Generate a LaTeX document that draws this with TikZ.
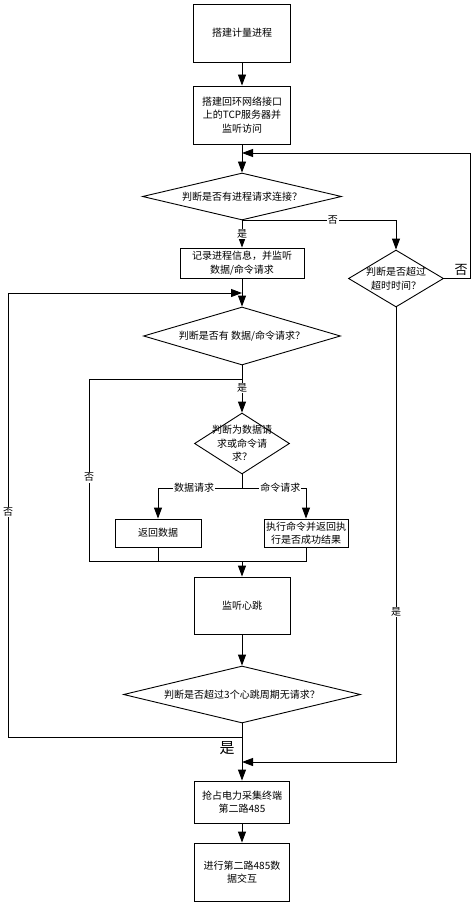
\documentclass[tikz,border=0pt]{standalone}
\usepackage{fontspec}
\setmainfont{Noto Sans CJK SC}
\usetikzlibrary{arrows.meta,shapes.geometric}
\begin{document}
\begin{tikzpicture}[x=1pt,y=-1pt,
  every node/.style={font=\fontsize{10}{13.5}\selectfont},
  box/.style={draw,line width=0.9pt,inner sep=0pt,align=center,fill=white},
  dia/.style={draw,diamond,line width=0.9pt,inner sep=0pt},
  arr/.style={line width=0.9pt,-{Triangle[length=11pt,width=8pt]}},
  ln/.style={line width=0.9pt},
  lbl/.style={fill=white,inner sep=1pt}]
\useasboundingbox (0,0) rectangle (474,904);
% boxes
\node[box,minimum width=97pt,minimum height=58pt] (b1) at (242,33) {搭建计量进程};
\node[box,minimum width=97pt,minimum height=58pt] (b2) at (242,115) {搭建回环网络接口\\上的TCP服务器并\\监听访问};
\node[dia,minimum width=199pt,minimum height=47pt,label={center:判断是否有进程请求连接？}] (d1) at (242,196.5) {};
\node[box,minimum width=124pt,minimum height=30pt] (b3) at (242,263) {记录进程信息，并监听\\数据/命令请求};
\node[dia,minimum width=95pt,minimum height=57pt,label={[align=center]center:判断是否超过\\超时时间？}] (d2) at (396,278.5) {};
\node[dia,minimum width=197pt,minimum height=58pt,label={center:判断是否有 数据/命令请求？}] (d3) at (242,336) {};
\node[dia,minimum width=95pt,minimum height=61pt,label={[align=center]center:判断为数据请\\求或命令请\\求？}] (d5) at (242,443.5) {};
\node[box,minimum width=86pt,minimum height=28pt] (b5) at (158,533) {返回数据};
\node[box,minimum width=84pt,minimum height=28pt] (b6) at (306,533) {执行命令并返回执\\行是否成功结果};
\node[box,minimum width=96pt,minimum height=57pt] (bh) at (242,605.5) {监听心跳};
\node[dia,minimum width=237pt,minimum height=57pt,label={center:判断是否超过3个心跳周期无请求？}] (d4) at (242,694.5) {};
\node[box,minimum width=95pt,minimum height=42pt] (b7) at (242,802) {抢占电力采集终端\\第二路485};
\node[box,minimum width=95pt,minimum height=58pt] (b8) at (242,872) {进行第二路485数\\据交互};
% junction coordinates
\coordinate (j1) at (242,153);
\coordinate (j2) at (242,293);
\coordinate (j3) at (242,737);
\coordinate (j4) at (242,762);
\coordinate (k1) at (242,379);
\coordinate (m) at (242,561);
\coordinate (f) at (242,488);
% connectors
\draw[arr] (b1.south) -- (b2.north);
\draw[arr] (b2.south) -- (d1.north);
\draw[arr] (d1.south) -- node[lbl]{是} (b3.north);
\draw[arr] (d1.south) -- node[lbl,pos=0.59]{否} (d1.south -| d2.north) -- (d2.north);
\draw[arr] (d2.east) -- (470,278.5) -- (470,153) -- (j1);
\node[font=\fontsize{13}{13}\selectfont] (no2) at (461,270) {否};
\draw[arr] (b3.south) -- (d3.north);
\draw[arr] (j3) -- (8,737) -- node[lbl,pos=0.507]{否} (8,293) -- (j2);
\draw[arr] (d3.south) -- node[lbl,pos=0.48]{是} (d5.north);
\draw[ln] (k1) -- (89,379) -- node[lbl,pos=0.54]{否} (89,561) -- (m);
\draw[ln] (d5.south) -- (f);
\draw[arr] (f) -- node[lbl,pos=0.57]{数据请求} (f -| b5.north) -- (b5.north);
\draw[arr] (f) -- node[lbl,pos=0.6]{命令请求} (f -| b6.north) -- (b6.north);
\draw[ln] (b5.south) |- (m);
\draw[ln] (b6.south) |- (m);
\draw[arr] (m) -- (bh.north);
\draw[arr] (bh.south) -- (d4.north);
\draw[arr] (d4.south) -- (b7.north);
\node[font=\fontsize{15}{15}\selectfont] (yes4) at (227,748) {是};
\draw[arr] (d2.south) -- node[lbl,pos=0.67]{是} (396,762) -- (j4);
\draw[arr] (b7.south) -- (b8.north);
\end{tikzpicture}
\end{document}
